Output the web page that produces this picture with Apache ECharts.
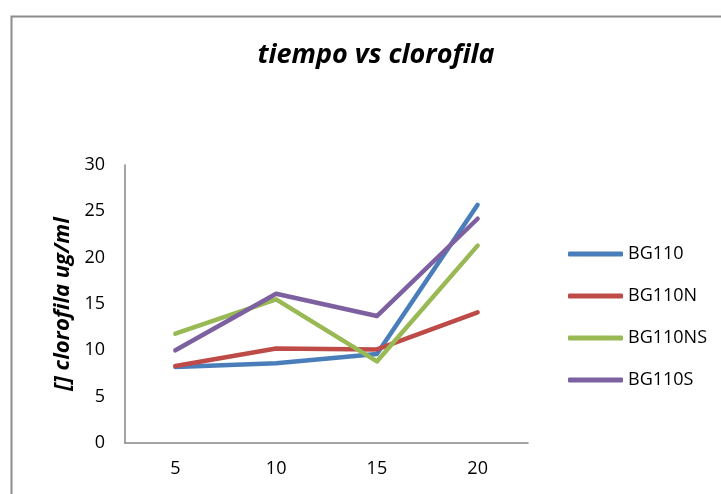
<!DOCTYPE html>
<html>
<head>
<meta charset="utf-8">
<script src="https://cdn.jsdelivr.net/npm/echarts@6/dist/echarts.min.js"></script>
<style>html,body{margin:0;padding:0;background:#fff;}#c{width:721px;height:494px;}</style>
</head>
<body>
<div id="c"></div>
<script>
const categories = ['5', '10', '15', '20'];
const BG110 = [8.2, 8.6, 9.6, 25.7];
const BG110N = [8.3, 10.2, 10.1, 14.1];
const BG110NS = [11.8, 15.5, 8.8, 21.3];
const BG110S = [10.0, 16.1, 13.7, 24.2];
const seriesNames = ['BG110', 'BG110N', 'BG110NS', 'BG110S'];
const seriesData = [BG110, BG110N, BG110NS, BG110S];
const colors = ['#4A7EBB', '#BE4B48', '#98B954', '#7D60A0'];

const chart = echarts.init(document.getElementById('c'));
const font = "'Open Sans', 'Liberation Sans', sans-serif";
chart.setOption({
  animation: false,
  backgroundColor: '#fff',
  color: colors,
  graphic: [{
    type: 'rect', left: 9, top: 14, z: -1,
    shape: { width: 740, height: 520 },
    style: { fill: 'none', stroke: '#8c8c8c', lineWidth: 2 }
  }],
  title: {
    text: 'tiempo vs clorofila',
    left: 371, top: 37, textAlign: 'center',
    textStyle: { fontFamily: font, fontSize: 27, fontWeight: 'bold', fontStyle: 'italic', color: '#000' }
  },
  legend: {
    orient: 'vertical', left: 563, top: 238,
    itemWidth: 55, itemHeight: 5, itemGap: 20,
    icon: 'roundRect',
    textStyle: { fontFamily: font, fontSize: 18, color: '#000', lineHeight: 22 },
    data: seriesNames
  },
  grid: { left: 125, right: 193, top: 165, bottom: 51 },
  xAxis: {
    type: 'category', data: categories, boundaryGap: true,
    axisLine: { lineStyle: { color: '#868686', width: 1.5 } },
    axisTick: { show: false },
    axisLabel: { fontFamily: font, fontSize: 18, color: '#000', margin: 17 }
  },
  yAxis: {
    type: 'value', min: 0, max: 30, interval: 5,
    name: '[] clorofila ug/ml', nameLocation: 'middle', nameGap: 51, nameRotate: 90,
    nameTextStyle: { fontFamily: font, fontSize: 22, fontWeight: 'bold', fontStyle: 'italic', color: '#000' },
    axisLine: { show: true, lineStyle: { color: '#868686', width: 1.5 } },
    axisTick: { show: false },
    splitLine: { show: false },
    axisLabel: { fontFamily: font, fontSize: 18, color: '#000', margin: 20 }
  },
  series: seriesNames.map((n, i) => ({
    name: n, type: 'line', data: seriesData[i],
    showSymbol: false, symbol: 'none',
    lineStyle: { width: 4.5, color: colors[i], cap: 'round', join: 'round' },
    itemStyle: { color: colors[i] }
  }))
});
</script>
</body>
</html>
